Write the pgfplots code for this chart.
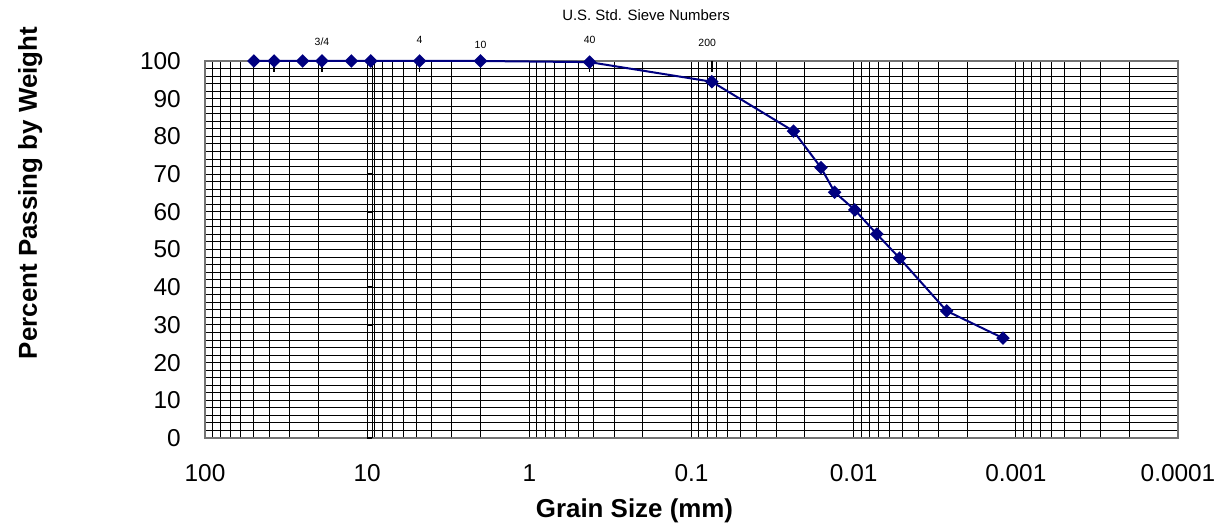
\documentclass[border=0pt]{standalone}
\usepackage{pgfplots}
\pgfplotsset{compat=1.18}
\usepackage{pgfplotstable}
\usepackage{fontspec}
\setmainfont{Liberation Sans}
\usetikzlibrary{calc}
\definecolor{navy}{RGB}{0,0,128}

% grain size (mm) vs percent passing
\pgfplotstableread{
size     pass
50       100
37.5     100
25       100
19       100
12.5     100
9.5      100
4.75     100
2.0      100
0.425    99.7
0.075    94.5
0.0235   81.4
0.0159   71.7
0.0131   65.2
0.00984  60.5
0.0072   54.1
0.00521  47.7
0.00267  33.7
0.0012   26.5
}\gradation

\begin{document}
\begin{tikzpicture}
\begin{axis}[
    scale only axis,
    width=973bp, height=377bp,
    xmode=log, x dir=reverse,
    xmin=0.0001, xmax=100,
    ymin=0, ymax=100,
    xtick={100,10,1,0.1,0.01,0.001,0.0001},
    xticklabels={100,10,1,0.1,0.01,0.001,0.0001},
    minor xtick={20,30,40,50,60,70,80,90,
        2,3,4,5,6,7,8,9,
        0.2,0.3,0.4,0.5,0.6,0.7,0.8,0.9,
        0.02,0.03,0.04,0.05,0.06,0.07,0.08,0.09,
        0.002,0.003,0.004,0.005,0.006,0.007,0.008,0.009,
        0.0002,0.0003,0.0004,0.0005,0.0006,0.0007,0.0008,0.0009},
    ytick={0,10,...,100},
    minor y tick num=4,
    grid=both,
    major grid style={black, line width=1.1bp},
    minor grid style={black, line width=0.95bp},
    axis line style={black!55, line width=1.6bp},
    major tick length=0pt, minor tick length=0pt,
    tick label style={font=\fontsize{24.5}{28}\selectfont},
    /pgf/number format/assume math mode=true,
    xticklabel style={anchor=north, inner sep=0pt, text height=18bp, text depth=0pt, yshift=-25bp},
    yticklabel style={anchor=east, inner sep=0pt, xshift=-24bp},
    clip=false,
]
\coordinate (O) at (rel axis cs:0,0);

% second line at the 10 mm gridline
\draw[black, line width=1bp] (axis cs:9.33,0) -- (axis cs:9.33,100);
\pgfplotsinvokeforeach{0,10,...,100}{
    \draw[black, line width=1.5bp] (axis cs:10,#1) -- (axis cs:9.33,#1);
}

% sieve tick marks along the top
\pgfplotsinvokeforeach{37.5,19,4.75,2.0,0.425,0.075}{
    \draw[black, line width=1.5bp] (axis cs:#1,100) -- (axis cs:#1,97);
}

\addplot[navy, line width=2bp, mark=square*, mark size=3.8bp,
    mark options={rotate=45, fill=navy, solid}] table[x=size, y=pass] {\gradation};

\begin{scope}[font=\fontsize{10.5}{12}\selectfont]
\node[yshift=19bp] at (axis cs:19,100) {3/4};
\node[yshift=21bp] at (axis cs:4.75,100) {4};
\node[yshift=16bp] at (axis cs:2.0,100) {10};
\node[yshift=21bp] at (axis cs:0.425,100) {40};
\node[yshift=18bp] at (axis cs:0.08,100) {200};
\end{scope}
\end{axis}
\node[font=\fontsize{15}{18}\selectfont] at ($(O)+(441bp,423bp)$) {U.S. Std. Sieve Numbers};
\node[font=\bfseries\fontsize{26}{30}\selectfont, anchor=base] at ($(O)+(429.5bp,-79bp)$) {Grain Size (mm)};
\node[font=\bfseries\fontsize{26}{30}\selectfont, anchor=base, rotate=90] at ($(O)+(-168bp,245bp)$) {Percent Passing by Weight};
\pgfresetboundingbox
\path (O) ++(-205bp,-92bp) rectangle ++(1221bp,530bp);
\end{tikzpicture}
\end{document}
